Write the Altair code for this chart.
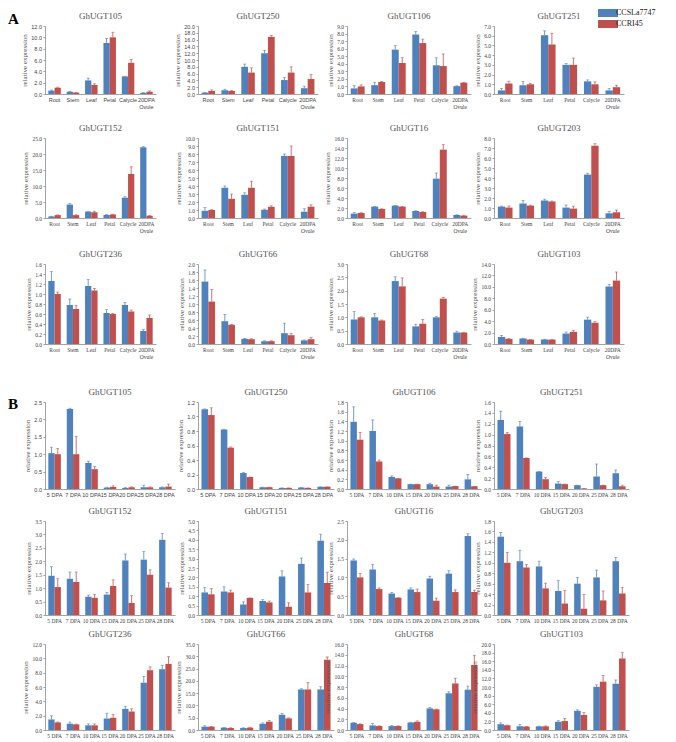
import altair as alt
import pandas as pd

# ---------------- data ----------------
CAT_A = ["Root", "Stem", "Leaf", "Petal", "Calycle", "20DPA Ovule"]
CAT_B = ["5 DPA", "7 DPA", "10 DPA", "15 DPA", "20 DPA", "25 DPA", "28 DPA"]
SERIES = ["CCSLa7747", "CCRI45"]
COLORS = ["#4F81BD", "#C0504D"]

# Panel A (tissues): blue = CCSLa7747, red = CCRI45, *_e = error bar (upper)
a105_b = [0.6, 0.4, 2.4, 9.0, 3.1, 0.2];      a105_be = [0.1, 0.05, 0.4, 0.8, 0.05, 0.05]
a105_r = [1.1, 0.25, 1.6, 10.0, 5.5, 0.4];    a105_re = [0.1, 0.05, 0.2, 0.9, 0.6, 0.15]
a250_b = [0.4, 1.1, 8.0, 12.0, 4.1, 1.7];     a250_be = [0.1, 0.3, 0.8, 0.8, 0.8, 0.6]
a250_r = [0.9, 0.9, 6.3, 16.8, 6.3, 4.4];     a250_re = [0.3, 0.1, 1.4, 0.4, 1.7, 1.3]
a106_b = [0.74, 1.17, 5.87, 7.87, 3.8, 1.04]; a106_be = [0.36, 0.38, 0.53, 0.39, 1.0, 0.05]
a106_r = [1.0, 1.6, 4.1, 6.74, 3.7, 1.5];     a106_re = [0.2, 0.05, 0.7, 0.52, 1.6, 0.05]
a251_b = [0.37, 0.9, 6.05, 3.0, 1.3, 0.37];   a251_be = [0.2, 0.4, 0.45, 0.15, 0.15, 0.2]
a251_r = [1.08, 1.0, 5.1, 3.0, 1.0, 0.7];     a251_re = [0.24, 0.1, 1.15, 0.7, 0.25, 0.2]
a152_b = [0.5, 4.2, 2.0, 0.95, 6.35, 22.1];   a152_be = [0.05, 0.3, 0.1, 0.1, 0.3, 0.2]
a152_r = [0.9, 0.9, 1.8, 1.1, 13.75, 0.7];    a152_re = [0.05, 0.1, 0.3, 0.1, 2.25, 0.05]
a151_b = [0.9, 3.78, 2.9, 1.04, 7.76, 0.79];  a151_be = [0.4, 0.22, 0.25, 0.08, 0.24, 0.37]
a151_r = [1.0, 2.4, 3.78, 1.4, 7.76, 1.41];   a151_re = [0.03, 0.6, 0.82, 0.12, 1.24, 0.24]
a16_b = [0.87, 2.27, 2.47, 1.4, 7.87, 0.6];   a16_be = [0.23, 0.05, 0.05, 0.05, 1.13, 0.05]
a16_r = [1.0, 1.8, 2.27, 1.2, 13.67, 0.47];   a16_re = [0.05, 0.05, 0.05, 0.05, 1.0, 0.05]
a203_b = [1.14, 1.45, 1.75, 1.04, 4.34, 0.47]; a203_be = [0.05, 0.3, 0.13, 0.26, 0.13, 0.17]
a203_r = [1.04, 1.24, 1.65, 0.94, 7.23, 0.57]; a203_re = [0.16, 0.05, 0.05, 0.24, 0.2, 0.23]
a236_b = [1.26, 0.78, 1.16, 0.62, 0.78, 0.26]; a236_be = [0.19, 0.12, 0.13, 0.07, 0.05, 0.03]
a236_r = [1.0, 0.7, 1.07, 0.6, 0.65, 0.52];    a236_re = [0.04, 0.07, 0.04, 0.01, 0.03, 0.06]
a66_b = [1.56, 0.57, 0.13, 0.07, 0.27, 0.09];  a66_be = [0.29, 0.17, 0.01, 0.01, 0.25, 0.01]
a66_r = [1.06, 0.48, 0.12, 0.07, 0.22, 0.12];  a66_re = [0.3, 0.01, 0.01, 0.01, 0.04, 0.04]
a68_b = [0.92, 1.0, 2.36, 0.66, 1.0, 0.43];    a68_be = [0.3, 0.14, 0.16, 0.08, 0.04, 0.05]
a68_r = [1.0, 0.88, 2.16, 0.76, 1.7, 0.43];    a68_re = [0.02, 0.02, 0.32, 0.16, 0.05, 0.01]
a103_b = [1.24, 0.95, 0.77, 1.83, 4.26, 10.06]; a103_be = [0.26, 0.05, 0.05, 0.27, 0.44, 0.34]
a103_r = [0.9, 0.77, 0.77, 2.13, 3.72, 11.1];   a103_re = [0.05, 0.05, 0.05, 0.27, 0.18, 1.5]

# Panel B (fibre development)
b105_b = [1.03, 2.3, 0.75, 0.04, 0.03, 0.05, 0.05]; b105_be = [0.17, 0.02, 0.05, 0.01, 0.01, 0.06, 0.01]
b105_r = [1.0, 1.0, 0.57, 0.06, 0.05, 0.05, 0.07];  b105_re = [0.16, 0.51, 0.08, 0.03, 0.01, 0.01, 0.07]
b250_b = [1.1, 0.82, 0.22, 0.025, 0.015, 0.02, 0.03]; b250_be = [0.005, 0.005, 0.01, 0.0, 0.0, 0.0, 0.0]
b250_r = [1.02, 0.57, 0.165, 0.025, 0.015, 0.015, 0.03]; b250_re = [0.1, 0.01, 0.0, 0.0, 0.0, 0.0, 0.0]
b106_b = [1.39, 1.2, 0.25, 0.1, 0.1, 0.05, 0.2];    b106_be = [0.31, 0.23, 0.02, 0.0, 0.02, 0.03, 0.1]
b106_r = [1.02, 0.57, 0.22, 0.1, 0.05, 0.06, 0.055]; b106_re = [0.15, 0.03, 0.0, 0.0, 0.03, 0.0, 0.0]
b251_b = [1.27, 1.15, 0.32, 0.1, 0.07, 0.23, 0.29]; b251_be = [0.16, 0.09, 0.0, 0.04, 0.0, 0.23, 0.06]
b251_r = [1.01, 0.57, 0.18, 0.09, 0.01, 0.07, 0.05]; b251_re = [0.03, 0.0, 0.03, 0.0, 0.0, 0.0, 0.02]
b152_b = [1.46, 1.35, 0.68, 0.76, 2.03, 2.06, 2.8];  b152_be = [0.34, 0.25, 0.06, 0.08, 0.24, 0.3, 0.23]
b152_r = [1.04, 1.23, 0.64, 1.08, 0.45, 1.5, 1.02];  b152_re = [0.31, 0.37, 0.13, 0.23, 0.27, 0.18, 0.18]
b151_b = [1.2, 1.25, 0.56, 0.74, 2.05, 2.72, 3.95];  b151_be = [0.27, 0.25, 0.14, 0.08, 0.3, 0.31, 0.35]
b151_r = [1.1, 1.2, 0.91, 0.67, 0.44, 1.2, 1.7];     b151_re = [0.3, 0.12, 0.0, 0.07, 0.21, 0.43, 0.58]
b16_b = [1.45, 1.21, 0.57, 0.68, 0.97, 1.1, 2.1];    b16_be = [0.04, 0.14, 0.03, 0.04, 0.06, 0.08, 0.06]
b16_r = [1.0, 0.69, 0.46, 0.61, 0.38, 0.61, 0.61];   b16_re = [0.1, 0.03, 0.0, 0.08, 0.07, 0.06, 0.05]
b203_b = [1.5, 1.03, 0.93, 0.46, 0.6, 0.72, 1.03];   b203_be = [0.08, 0.21, 0.1, 0.2, 0.12, 0.14, 0.07]
b203_r = [1.0, 0.91, 0.51, 0.22, 0.12, 0.28, 0.41];  b203_re = [0.2, 0.06, 0.1, 0.25, 0.27, 0.18, 0.12]
b236_b = [1.47, 0.88, 0.65, 1.6, 2.95, 6.6, 8.48];   b236_be = [0.51, 0.22, 0.2, 0.75, 0.35, 0.87, 0.55]
b236_r = [1.06, 0.78, 0.65, 1.7, 2.58, 8.34, 9.22];  b236_re = [0.05, 0.05, 0.2, 0.5, 0.37, 0.46, 1.01]
b66_b = [1.35, 0.95, 0.8, 2.57, 6.2, 16.5, 16.5];    b66_be = [0.4, 0.1, 0.1, 0.3, 0.55, 0.3, 1.1]
b66_r = [1.35, 0.8, 0.95, 3.38, 4.73, 16.5, 28.6];   b66_re = [0.1, 0.1, 0.1, 0.42, 0.2, 2.8, 1.1]
b68_b = [1.34, 0.85, 0.73, 1.4, 4.02, 6.83, 7.5];    b68_be = [0.05, 0.35, 0.1, 0.05, 0.18, 0.27, 0.67]
b68_r = [1.1, 0.73, 0.73, 1.52, 3.84, 8.66, 12.07];  b68_re = [0.05, 0.05, 0.05, 0.18, 0.05, 0.97, 1.83]
b103_b = [1.35, 0.88, 0.85, 1.9, 4.46, 10.04, 10.76]; b103_be = [0.32, 0.39, 0.05, 0.25, 0.24, 0.46, 0.87]
b103_r = [1.1, 0.8, 0.85, 2.07, 3.5, 11.24, 16.65];   b103_re = [0.05, 0.05, 0.1, 0.63, 0.56, 1.43, 1.35]

# y-axis maxima and tick steps, per panel
Y_MAX_A = [12.0, 20.0, 9.0, 7.0, 25.0, 10.0, 16.0, 8.0, 1.6, 2.0, 3.0, 14.0]
Y_STEP_A = [2.0, 2.0, 1.0, 1.0, 5.0, 1.0, 2.0, 1.0, 0.2, 0.2, 0.5, 2.0]
Y_MAX_B = [2.5, 1.2, 1.8, 1.6, 3.5, 5.0, 2.5, 1.8, 12.0, 35.0, 16.0, 20.0]
Y_STEP_B = [0.5, 0.2, 0.2, 0.2, 0.5, 0.5, 0.5, 0.2, 2.0, 5.0, 2.0, 2.0]

TITLES = ["GhUGT105", "GhUGT250", "GhUGT106", "GhUGT251",
          "GhUGT152", "GhUGT151", "GhUGT16", "GhUGT203",
          "GhUGT236", "GhUGT66", "GhUGT68", "GhUGT103"]

SERIF = "Liberation Serif"
SANS = "Liberation Sans"

A_DATA = [(a105_b, a105_be, a105_r, a105_re), (a250_b, a250_be, a250_r, a250_re),
          (a106_b, a106_be, a106_r, a106_re), (a251_b, a251_be, a251_r, a251_re),
          (a152_b, a152_be, a152_r, a152_re), (a151_b, a151_be, a151_r, a151_re),
          (a16_b, a16_be, a16_r, a16_re), (a203_b, a203_be, a203_r, a203_re),
          (a236_b, a236_be, a236_r, a236_re), (a66_b, a66_be, a66_r, a66_re),
          (a68_b, a68_be, a68_r, a68_re), (a103_b, a103_be, a103_r, a103_re)]
B_DATA = [(b105_b, b105_be, b105_r, b105_re), (b250_b, b250_be, b250_r, b250_re),
          (b106_b, b106_be, b106_r, b106_re), (b251_b, b251_be, b251_r, b251_re),
          (b152_b, b152_be, b152_r, b152_re), (b151_b, b151_be, b151_r, b151_re),
          (b16_b, b16_be, b16_r, b16_re), (b203_b, b203_be, b203_r, b203_re),
          (b236_b, b236_be, b236_r, b236_re), (b66_b, b66_be, b66_r, b66_re),
          (b68_b, b68_be, b68_r, b68_re), (b103_b, b103_be, b103_r, b103_re)]

# ---------------- layout ----------------
# grid columns: [lead, panel, gap, panel, gap, panel, gap, panel]; a column is as wide as
# its widest cell, so the gap spacers are shared by the A and B rows
A_WIDTHS = [111, 120, 124, 130]
B_WIDTHS = [130, 136, 134, 135]
LEAD = 2
GAPS = [23, 13, 13]
ROW_H = [68, 80, 80, 87, 94, 86]
ROW_GAPS = [44, 46, 58, 32, 29, 0]

LEG = alt.Legend(title=None, orient="none", legendX=560, legendY=-18,
                 symbolType="M-2,-0.8H2V0.8H-2Z", symbolSize=100, symbolStrokeWidth=0,
                 labelFont=SERIF, labelFontSize=8, labelColor="#222", rowPadding=2,
                 labelOffset=3, padding=0)


def spacer(w, h, letter=None):
    if letter is None:
        return alt.Chart(pd.DataFrame({"z": [0]})).mark_point(opacity=0).properties(
            width=w, height=h)
    return alt.Chart(pd.DataFrame({"t": [letter[0]]})).mark_text(
        font=SERIF, fontSize=15, fontWeight="bold", align="left", baseline="top",
        color="black").encode(text="t:N", x=alt.value(letter[1]), y=alt.value(letter[2])
    ).properties(width=w, height=h)


def panel(title, cats, vals, ymax, step, font, w, h, is_a):
    b, be, r, re_ = vals
    recs = []
    for i, c in enumerate(cats):
        recs.append({"cat": c, "series": SERIES[0], "v": b[i], "top": b[i] + be[i]})
        recs.append({"cat": c, "series": SERIES[1], "v": r[i], "top": r[i] + re_[i]})
    df = pd.DataFrame(recs)
    n = int(round(ymax / step))
    ticks = [round(k * step, 4) for k in range(n + 1)]

    xaxis_kw = dict(title=None, labelAngle=0, labelFont=font, labelFontSize=5.5,
                    labelColor="#444", ticks=False, domainColor="#8c8c8c",
                    domainWidth=0.8, labelPadding=3, labelLineHeight=7)
    if is_a:
        xaxis_kw["labelExpr"] = "datum.label == '20DPA Ovule' ? ['20DPA', 'Ovule'] : datum.label"
    xaxis = alt.Axis(**xaxis_kw)
    x = alt.X("cat:N", sort=cats, scale=alt.Scale(paddingInner=0.32, paddingOuter=0.18), axis=xaxis)
    xo = alt.XOffset("series:N", scale=alt.Scale(domain=SERIES, paddingInner=0, paddingOuter=0))
    ysc = alt.Scale(domain=[0, ymax], nice=False, zero=True)
    yaxis = alt.Axis(title="relative expression", values=ticks, format=".1f", grid=False,
                     labelFont=font, labelFontSize=5.5, labelColor="#444", tickSize=2,
                     tickColor="#8c8c8c", tickWidth=0.8, domainColor="#8c8c8c",
                     domainWidth=0.8, titleFont=SERIF, titleFontSize=7,
                     titleFontWeight="normal", titleColor="#555", titlePadding=3,
                     labelPadding=1.5)

    base = alt.Chart(df)
    layers = [base.mark_bar().encode(
        x=x, xOffset=xo, y=alt.Y("v:Q", scale=ysc, axis=yaxis),
        color=alt.Color("series:N", scale=alt.Scale(domain=SERIES, range=COLORS), legend=LEG))]
    for s, col in zip(SERIES, COLORS):
        sub = base.transform_filter(alt.datum.series == s)
        layers.append(sub.mark_rule(color=col, strokeWidth=0.8).encode(
            x=x, xOffset=xo, y=alt.Y("v:Q", scale=ysc, axis=yaxis), y2="top:Q"))
        layers.append(sub.mark_tick(color=col, thickness=0.8, size=3).encode(
            x=x, xOffset=xo, y=alt.Y("top:Q", scale=ysc, axis=yaxis)))
    return alt.layer(*layers).properties(
        width=w, height=h,
        title=alt.TitleParams(title, font=SERIF, fontSize=9, fontWeight="normal",
                              color="#555", offset=3, anchor="middle", frame="group"))


def row_cells(idx, data, ymaxs, steps, cats, widths, h, gap_below, is_a, row_i, letter=None):
    # lead spacer carries the row height plus the gap below it (and the panel letter)
    items = [spacer(LEAD, h + gap_below, letter)]
    for k in range(4):
        p = idx + k
        font = SANS if (row_i == 0 and k < 2) else SERIF
        items.append(panel(TITLES[p], cats, data[p], ymaxs[p], steps[p], font,
                           widths[k], h, is_a))
        if k < 3:
            items.append(spacer(GAPS[k], 1))
    return items


cells = []
for r in range(3):
    cells += row_cells(4 * r, A_DATA, Y_MAX_A, Y_STEP_A, CAT_A, A_WIDTHS,
                       ROW_H[r], ROW_GAPS[r], True, r,
                       letter=("A", -35, -14) if r == 0 else None)
for r in range(3):
    cells += row_cells(4 * r, B_DATA, Y_MAX_B, Y_STEP_B, CAT_B, B_WIDTHS,
                       ROW_H[3 + r], ROW_GAPS[3 + r], False, r,
                       letter=("B", -35, -5) if r == 0 else None)

chart = alt.concat(*cells, columns=8, spacing=0, bounds="flush",
                   align={"row": "each", "column": "none"}).resolve_scale(
    x="independent", y="independent", xOffset="independent"
).properties(
    padding={"left": 0, "top": 0, "right": 0, "bottom": 0}, background="white"
).configure_view(strokeWidth=0)

chart.save("out.html", embed_options={"renderer": "svg", "actions": False})
